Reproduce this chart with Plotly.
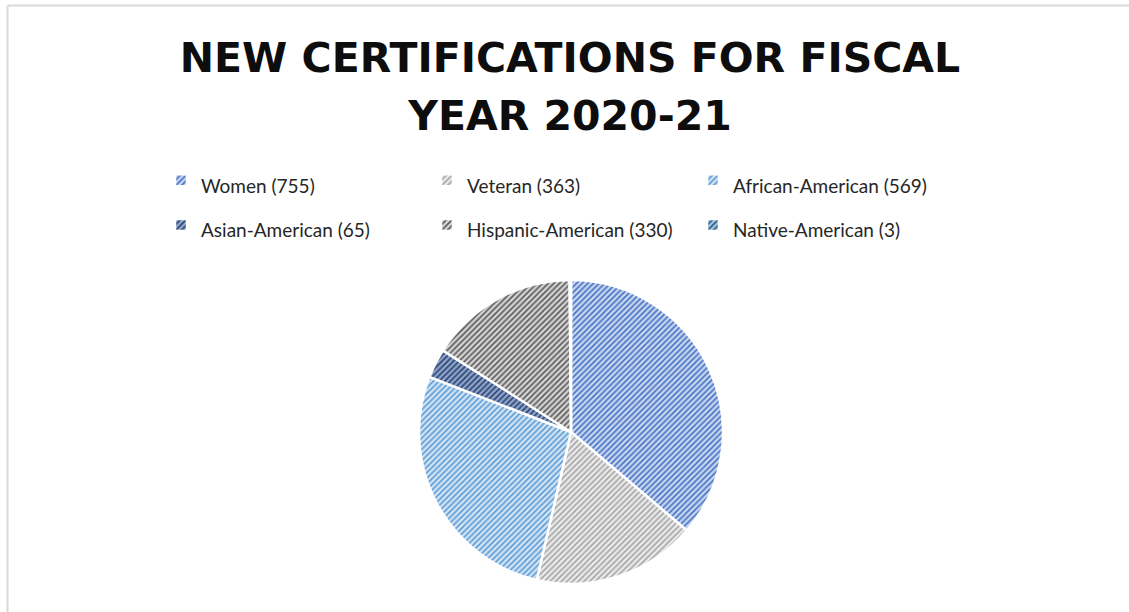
import plotly.graph_objects as go

# ---- data ----
categories = ["Women", "Veteran", "African-American", "Asian-American",
              "Hispanic-American", "Native-American"]
counts = [755, 363, 569, 65, 330, 3]
title_lines = ["NEW CERTIFICATIONS FOR FISCAL", "YEAR 2020-21"]

# ---- styles ----
fg_colors = ["#4472C4", "#A5A5A5", "#5B9BD5", "#264478", "#5A5A5A", "#255E91"]
bg_colors = ["#C9D6EF", "#EBEBEB", "#D3E4F4", "#93A5C6", "#D4D4D4", "#A9C2DA"]

LEGEND_TEXT_PX = 19
TITLE_TEXT_PX = 41
labels = [f"<span style='font-size:{LEGEND_TEXT_PX}px'>{c} ({n})</span>"
          for c, n in zip(categories, counts)]
title_text = "<br>".join(f"<span style='font-size:{TITLE_TEXT_PX}px'>{t}</span>"
                         for t in title_lines)

W, H = 1129, 612
ML, MR = 161, 68          # plot area = legend width budget (3 columns)
PW = W - ML - MR


def px_x(p):
    """pixel x -> paper fraction"""
    return (p - ML) / PW


fig = go.Figure(go.Pie(
    labels=labels,
    values=counts,
    sort=False,
    direction="clockwise",
    rotation=0,
    textinfo="none",
    hoverinfo="label+value+percent",
    marker=dict(
        colors=bg_colors,
        line=dict(color="white", width=2.5),
        pattern=dict(shape="/", fgcolor=fg_colors, bgcolor=bg_colors,
                     size=4, solidity=0.4, fillmode="replace"),
    ),
    domain=dict(x=[px_x(419), px_x(723)], y=[(H - 584) / H, (H - 280) / H]),
))

fig.update_layout(
    width=W, height=H,
    margin=dict(l=ML, r=MR, t=0, b=0, autoexpand=False),
    paper_bgcolor="white",
    plot_bgcolor="white",
    title=dict(
        text=title_text,
        x=570 / W, xanchor="center", xref="container",
        y=1 - 72 / H, yanchor="middle", yref="container",
        # line pitch of the reference title (58 px) comes from this size
        font=dict(family="DejaVu Sans", size=44.6, color="#0D0D0D", weight="bold"),
    ),
    showlegend=True,
    legend=dict(
        orientation="h",
        x=0, xanchor="left",
        y=1 - 153 / H, yanchor="top",
        entrywidth=221, entrywidthmode="pixels",
        # row pitch of the reference legend (45 px) comes from this size
        font=dict(family="Lato", size=32, color="#262626"),
        bgcolor="rgba(0,0,0,0)",
        traceorder="normal",
    ),
    shapes=[
        dict(type="line", xref="paper", yref="paper",
             x0=px_x(7.5), x1=px_x(7.5), y0=0, y1=1 - 5.5 / H,
             line=dict(color="#D9D9D9", width=2), layer="below"),
        dict(type="line", xref="paper", yref="paper",
             x0=px_x(7.5), x1=px_x(W), y0=1 - 5.5 / H, y1=1 - 5.5 / H,
             line=dict(color="#D9D9D9", width=2), layer="below"),
    ],
)

fig.write_html("out.html")
